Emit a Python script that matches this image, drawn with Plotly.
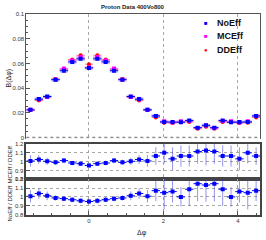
import plotly.graph_objects as go

# ---------------- data ----------------
phi = [-1.5708, -1.3464, -1.1220, -0.8976, -0.6732, -0.4488, -0.2244, 0.0,
       0.2244, 0.4488, 0.6732, 0.8976, 1.1220, 1.3464, 1.5708, 1.7952,
       2.0196, 2.2440, 2.4684, 2.6928, 2.9172, 3.1416, 3.3660, 3.5904,
       3.8148, 4.0392, 4.2636, 4.4880]
BIN_W = 0.2244

noeff = [0.0224, 0.0311, 0.0332, 0.0468, 0.0541, 0.0612, 0.0637, 0.0563,
         0.0637, 0.0612, 0.0541, 0.0468, 0.0332, 0.0311, 0.0224, 0.0175,
         0.0126, 0.0125, 0.0124, 0.0137, 0.0080, 0.0099, 0.0080, 0.0137,
         0.0124, 0.0125, 0.0126, 0.0175]
mceff = [0.0224, 0.0307, 0.0329, 0.0470, 0.0559, 0.0623, 0.0651, 0.0568,
         0.0651, 0.0623, 0.0559, 0.0470, 0.0329, 0.0307, 0.0224, 0.0174,
         0.0132, 0.0122, 0.0132, 0.0134, 0.0078, 0.0098, 0.0078, 0.0134,
         0.0132, 0.0122, 0.0132, 0.0174]
ddeff = [0.0222, 0.0299, 0.0328, 0.0474, 0.0552, 0.0632, 0.0666, 0.0594,
         0.0666, 0.0632, 0.0552, 0.0474, 0.0328, 0.0299, 0.0222, 0.0163,
         0.0120, 0.0118, 0.0124, 0.0126, 0.0070, 0.0087, 0.0070, 0.0126,
         0.0124, 0.0118, 0.0120, 0.0163]
noeff_err = [0.0012, 0.0014, 0.0014, 0.0016, 0.0017, 0.0018, 0.0018, 0.0017,
             0.0018, 0.0018, 0.0017, 0.0016, 0.0014, 0.0014, 0.0012, 0.0013,
             0.0013, 0.0013, 0.0013, 0.0013, 0.0012, 0.0012, 0.0012, 0.0013,
             0.0013, 0.0013, 0.0013, 0.0013]

ratio_mc_dd = [1.008, 1.024, 1.004, 0.992, 1.012, 0.985, 0.977, 0.957,
               0.977, 0.985, 1.012, 0.992, 1.004, 1.024, 1.008, 1.064,
               1.100, 1.032, 1.064, 1.064, 1.115, 1.127, 1.115, 1.064,
               1.064, 1.032, 1.100, 1.064]
ratio_mc_dd_err = [0.065, 0.05, 0.04, 0.03, 0.03, 0.025, 0.025, 0.025,
                   0.025, 0.025, 0.03, 0.03, 0.04, 0.05, 0.065, 0.10,
                   0.12, 0.13, 0.12, 0.12, 0.14, 0.17, 0.14, 0.12,
                   0.12, 0.13, 0.12, 0.10]
ratio_no_dd = [1.007, 1.039, 1.012, 0.988, 0.980, 0.968, 0.956, 0.948,
               0.956, 0.968, 0.980, 0.988, 1.012, 1.039, 1.007, 1.071,
               1.048, 1.060, 1.000, 1.087, 1.150, 1.135, 1.150, 1.087,
               1.000, 1.060, 1.048, 1.071]
ratio_no_dd_err = [0.07, 0.06, 0.05, 0.03, 0.03, 0.03, 0.03, 0.03,
                   0.03, 0.03, 0.03, 0.03, 0.05, 0.06, 0.07, 0.12,
                   0.19, 0.125, 0.11, 0.19, 0.2, 0.19, 0.2, 0.19,
                   0.11, 0.125, 0.19, 0.12]

x_ticks = [0, 2, 4]
ratio_ticks = [0.8, 0.9, 1.0, 1.1, 1.2]
ratio_labels = ["0.8", "0.9", "1", "1.1", "1.2"]
series_names = ["NoEff", "MCEff", "DDEff"]
series_colors = ["#0000ff", "#ff00ff", "#ff0000"]

FONT = "Liberation Sans, Arial, Helvetica, sans-serif"
W, H = 266, 240
XR = [-1.6830, 4.6002]


def px(v):
    return v / W


def py(v):
    return 1 - v / H


fig = go.Figure()

# error boxes for NoEff in main panel
fig.add_trace(go.Bar(
    x=phi, y=[2 * e for e in noeff_err],
    base=[v - e for v, e in zip(noeff, noeff_err)],
    width=BIN_W, marker=dict(color="rgba(120,120,235,0.35)", line=dict(width=0)),
    xaxis="x", yaxis="y", showlegend=False, hoverinfo="skip"))

half = [BIN_W / 2] * len(phi)
fig.add_trace(go.Scatter(
    x=phi, y=ddeff, mode="markers", xaxis="x", yaxis="y", showlegend=False,
    marker=dict(symbol="circle", size=4, color=series_colors[2]),
    error_x=dict(type="data", array=half, color="rgba(255,0,0,0.5)", thickness=1, width=0)))
fig.add_trace(go.Scatter(
    x=phi, y=mceff, mode="markers", xaxis="x", yaxis="y", showlegend=False,
    marker=dict(symbol="square", size=4, color=series_colors[1]),
    error_x=dict(type="data", array=half, color="rgba(255,0,255,0.5)", thickness=1, width=0)))
fig.add_trace(go.Scatter(
    x=phi, y=noeff, mode="markers", xaxis="x", yaxis="y", showlegend=False,
    marker=dict(symbol="square", size=4, color=series_colors[0]),
    error_x=dict(type="data", array=half, color="#0000ff", thickness=1, width=0)))

for r, re, xa, ya in [(ratio_mc_dd, ratio_mc_dd_err, "x2", "y2"),
                      (ratio_no_dd, ratio_no_dd_err, "x3", "y3")]:
    fig.add_trace(go.Scatter(
        x=phi, y=r, mode="markers", xaxis=xa, yaxis=ya, showlegend=False,
        marker=dict(symbol="square", size=4, color="#0000ff"),
        error_x=dict(type="data", array=half, color="#0000ff", thickness=1, width=0),
        error_y=dict(type="data", array=re, color="rgba(60,60,220,0.55)", thickness=1, width=0)))

grid = dict(showgrid=True, gridcolor="#a8a8a8", griddash="dot", gridwidth=1)
tickfont = dict(family=FONT, size=6, color="#333")

xdom = [px(26.3), px(260.3)]
fig.update_layout(
    width=W, height=H, margin=dict(l=0, r=0, t=0, b=0, autoexpand=False),
    paper_bgcolor="white", plot_bgcolor="rgba(0,0,0,0)",
    barmode="overlay", showlegend=False,
    xaxis=dict(domain=xdom, range=XR, anchor="y", side="top", showline=True,
               linecolor="#555", linewidth=1, showticklabels=False, ticks="",
               tick0=0, dtick=2, zeroline=False, automargin=False, **grid),
    yaxis=dict(domain=[py(138.5), py(14)], range=[-0.0008, 0.1], anchor="x",
               showline=True, mirror=True, linecolor="#555", linewidth=1,
               ticks="inside", ticklen=4, tickcolor="#555", dtick=0.02,
               minor=dict(dtick=0.005, ticks="inside", ticklen=2, tickcolor="#555"),
               showgrid=False, zeroline=False, tickfont=tickfont, automargin=False),
    xaxis2=dict(domain=xdom, range=XR, anchor="y2", matches="x", showline=True,
                mirror=True, linecolor="#444", linewidth=1.5, showticklabels=False,
                ticks="", tick0=0, dtick=2, zeroline=False, automargin=False, **grid),
    yaxis2=dict(domain=[py(179.3), py(144)], range=[0.8, 1.2], anchor="x2",
                tickvals=ratio_ticks, ticktext=ratio_labels, showline=True,
                mirror=True, linecolor="#444", linewidth=1.5, ticks="inside",
                ticklen=4, tickcolor="#555", zeroline=False, tickfont=tickfont,
                automargin=False, **grid),
    xaxis3=dict(domain=xdom, range=XR, anchor="y3", matches="x", showline=True,
                mirror=True, linecolor="#444", linewidth=1.5, ticks="inside",
                ticklen=4, tickcolor="#555", tickvals=x_ticks,
                ticktext=[str(t) for t in x_ticks],
                minor=dict(dtick=0.5, ticks="inside", ticklen=2, tickcolor="#555"),
                zeroline=False, tickfont=tickfont, automargin=False, **grid),
    yaxis3=dict(domain=[py(214.5), py(179.3)], range=[0.8, 1.2], anchor="x3",
                tickvals=ratio_ticks, ticktext=ratio_labels, showline=True,
                mirror=True, linecolor="#444", linewidth=1.5, ticks="inside",
                ticklen=4, tickcolor="#555", zeroline=False, tickfont=tickfont,
                automargin=False, **grid),
)

# dotted zero line in main panel
fig.add_shape(type="line", xref="x domain", yref="y", x0=0, x1=1, y0=0, y1=0,
              line=dict(color="#8a8a8a", width=1.5, dash="dot"))

ann = []
ann.append(dict(text="<b>Proton Data 400Vo800</b>", x=px(132.5), y=py(7),
                font=dict(family=FONT, size=6, color="#222")))
ann.append(dict(text="B(Δφ)", x=px(8.5), y=py(78), textangle=-90,
                font=dict(family=FONT, size=7, color="#222")))
ann.append(dict(text="MCEff / DDEff", x=px(9.5), y=py(165), textangle=-90,
                font=dict(family=FONT, size=6, color="#222")))
ann.append(dict(text="NoEff / DDEff", x=px(9.5), y=py(204), textangle=-90,
                font=dict(family=FONT, size=6, color="#222")))
ann.append(dict(text="Δφ", x=px(142), y=py(233),
                font=dict(family=FONT, size=7, color="#222")))
leg_y = [22.7, 36, 49.5]
leg_sym = ["■", "■", "●"]
for name, col, ly, sym in zip(series_names, series_colors, leg_y, leg_sym):
    ann.append(dict(text=sym, x=px(206), y=py(ly), font=dict(family=FONT, size=6, color=col)))
    ann.append(dict(text="<b>" + name + "</b>", x=px(215), y=py(ly), xanchor="left",
                    font=dict(family=FONT, size=9, color="#111")))
for a in ann:
    a.setdefault("xanchor", "center")
    a.update(xref="paper", yref="paper", yanchor="middle", showarrow=False)
    fig.add_annotation(**a)

fig.write_html("out.html", config={"displayModeBar": False},
               post_script="document.body.style.margin='0px';")
